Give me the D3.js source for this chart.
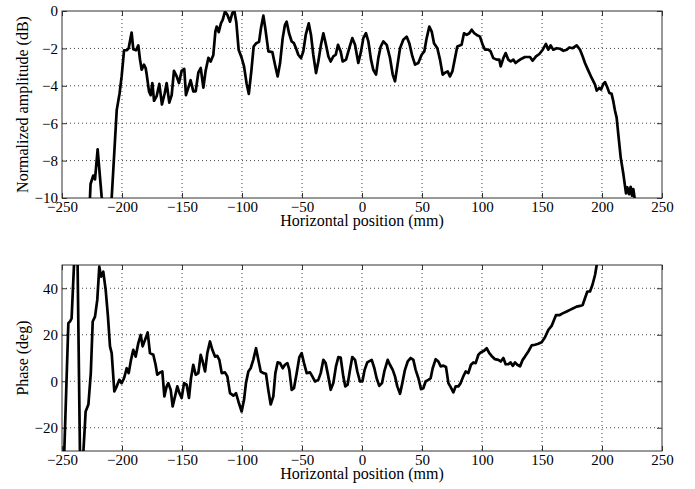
<html>
<head><meta charset="utf-8"></head>
<script src="https://cdnjs.cloudflare.com/ajax/libs/d3/7.8.5/d3.min.js"></script>
<body style="margin:0;background:white">
<div id="graph"></div>
</body>
<script>
// amplitude profile (top)
var posAmp = [-227,-226.7,-226.2,-224,-222.5,-220.3,-217,-215,-211,-208.6,-204.4,-202,-200.3,-198.3,-196,-194.5,-192,-190.6,-188.3,-186.4,-185,-183.6,-181.7,-180.3,-179.4,-177.5,-176.1,-174.7,-173.3,-171.1,-168.9,-166.7,-164.4,-162.8,-160.6,-158.6,-156.7,-154.4,-152.5,-150.3,-148.1,-146.7,-144.7,-142.8,-140.6,-138.6,-136.4,-134.4,-132.2,-130.3,-128,-126.1,-123.9,-122.2,-121.1,-119.4,-117.5,-116.1,-114.2,-112.2,-110,-108.1,-106.4,-104.7,-102.8,-100.3,
  -98.3,-96.1,-94.3,-92.2,-90.3,-88.1,-85.8,-84.2,-82.2,-80.6,-78,-74.7,-72.5,-70.3,-68.3,-66.1,-64.2,-62.8,-60.8,-58.6,-56.7,-55,-53.1,-50.8,-48.9,-46.9,-44.4,-42.5,-40.6,-38.3,-36.4,-34.2,-32.2,-30,-28,-26.1,-23.9,-21.9,-20,-17.8,-16.1,-13.3,-10.6,-8.1,-5.8,-3.1,-0.8,1.1,3.3,5.3,7.5,9.4,11.7,13.6,15.6,17.8,20.6,23.3,
  25.6,27.5,29.4,31.7,34.4,37.2,39.4,42,44.2,46.9,49.7,51.9,53.9,56.1,58.1,60,62.8,65,67.2,69.2,71.4,73.3,75.3,77.5,79.4,83,85,87.2,89.4,91.4,93.6,95.6,98.3,100.6,102.5,105.3,107.2,109.4,112.2,114.4,115.6,117.8,119.7,121.9,123.9,126.1,128,130.3,
  133,135.8,140,142.2,145,147.8,150.6,153.3,155.3,157.2,159.4,162.2,165,167.8,170.6,172.8,175.6,178.9,181.7,183.9,185.8,188.6,191.4,194.2,195.6,197.8,199.2,201.1,202.5,204.4,206.1,208,209.4,210.8,212.2,213.6,215.6,217.8,220,221.1,222.5,223.9,225,226.1,227,228];
var ampDb = [-10.5,-10,-9.25,-8.8,-9.0,-7.4,-9.9,-10.6,-10.6,-10,-5.3,-4.4,-3.5,-2.1,-2.1,-2.0,-1.15,-2.04,-2.1,-1.84,-2.6,-3.14,-2.87,-3.05,-3.4,-4.3,-4.5,-3.85,-4.8,-4.55,-3.9,-5.0,-4.4,-3.85,-4.9,-4.5,-3.2,-3.5,-3.85,-3.2,-3.1,-4.5,-4.1,-3.7,-4.3,-4.3,-3.3,-3.05,-4.1,-3.2,-2.5,-2.7,-2.35,-1.1,-0.83,-1.13,-0.65,-0.48,-0.03,-0.2,-0.57,-0.12,0,-0.62,-2.07,-2.5,
  -2.96,-3.9,-4.43,-3.2,-1.9,-1.72,-1.65,-0.92,-0.25,-0.92,-2.16,-2.2,-2.87,-3.5,-2.8,-1.45,-0.74,-0.57,-1.19,-1.63,-1.72,-1.99,-2.34,-2.52,-2.16,-1.28,-0.66,-1.28,-2.34,-3.32,-2.7,-1.81,-1.19,-1.81,-2.43,-2.7,-2.43,-2.34,-1.81,-2.16,-2.7,-2.6,-1.99,-1.45,-1.81,-2.78,-2.16,-1.45,-1.19,-1.63,-2.6,-3.14,-3.4,-2.52,-1.9,-1.63,-1.81,-2.5,
  -3.4,-3.76,-2.96,-1.99,-1.54,-1.37,-1.72,-2.43,-2.87,-2.78,-2.34,-2.16,-1.45,-0.83,-1.1,-1.72,-1.99,-2.6,-3.4,-3.3,-3.23,-3.5,-3.23,-2.52,-1.9,-1.81,-1.19,-1.28,-1.19,-1.0,-1.19,-1.28,-1.37,-1.81,-2.07,-2.07,-2.16,-2.52,-2.6,-2.6,-2.96,-2.52,-2.25,-2.6,-2.7,-2.6,-2.78,-2.66,
  -2.55,-2.46,-2.46,-2.66,-2.43,-2.3,-2.07,-1.76,-2.07,-1.84,-2.07,-1.99,-2.02,-2.13,-2.07,-1.95,-1.99,-1.84,-2.07,-2.43,-2.78,-3.19,-3.58,-3.94,-4.26,-4.11,-4.2,-3.9,-3.8,-4.08,-4.38,-4.43,-4.82,-5.32,-5.7,-6.6,-7.84,-8.72,-9.75,-9.43,-9.79,-9.4,-9.88,-9.52,-9.93,-10.5];

// phase profile (bottom)
var posPhase = [-249,-244.7,-243.3,-242,-240,-238.5,-237,-235,-233,-230.3,-228,-226,-224.4,-222.5,-220.6,-218.9,-217.5,-215.6,-213.6,-211.7,-210,-208.6,-206.4,-204.4,-202.2,-200.3,-198.3,-196.1,-194.4,-192.5,-190.6,-188.6,-186.4,-184.4,-182.8,-180.8,-178.6,-176.7,-173.9,-172,-170.6,-168.3,-166.4,-164.7,-162.8,-161.4,-159.4,-157.8,-155.8,-153.9,-152.2,-150.3,-148.3,-146.1,-144.2,-142.5,-140.6,-138.6,-136.4,-134.4,-132.8,-130.8,-128.9,-126.7,-124.7,-122.5,-120.6,-118.9,-116.9,-114.2,-112.2,-110,-107.2,-105,-103,-100.3,
  -98.3,-96.7,-94.7,-92.8,-90.6,-88.3,-86.4,-84.4,-82.2,-80,-78.1,-76.1,-73.9,-72.2,-70.3,-68.3,-66.1,-64.2,-62.2,-60.6,-58.6,-56.7,-54.4,-52.2,-50.3,-48.3,-46.1,-43.3,-41.4,-39.2,-36.4,-34.4,-32.2,-30.3,-28.1,-26.1,-23.9,-21.7,-19.7,-17.8,-15.6,-13.9,-12,-10,-8.1,-5.8,-3.9,-1.7,0.3,2.2,4.4,8.1,10.3,12.2,14.4,16.7,18.6,21.4,23.3,25.6,27.5,29.4,31.7,33.6,35.8,38.1,40.6,42.8,44.7,47,49.2,51.1,53,55.3,57.2,58.9,61.4,63.6,65.6,67.8,70,72,73.9,76.1,78.1,80.3,82.2,84.4,86.4,88.6,90.8,92.8,94.7,97,98.9,
  101.7,103.9,106.1,108,110.8,113.6,115.6,117.8,119.7,122,123.9,125.6,127.5,129.4,131.7,133.9,135.8,138.6,141.4,144.2,146.9,149.7,152.5,155.3,158,161.7,164.4,167.2,170.6,173.3,176.1,178.9,181.7,183.9,185.8,187.8,190,192,194.2,195.6,197.5];
var phaseDeg = [-45,25,25.7,27,50,60,50,-32,-38,-13,-10,3.5,25.7,27.8,35,49.3,45,47.1,39.3,27.8,15,12.1,-4.4,-2.2,0.6,-0.8,1.3,5.6,3.5,9.2,13.5,10.6,16.4,19.9,15,17.8,21,12.1,11.4,7.1,2.8,3.8,4.2,-6.5,-2.2,-0.8,-3.7,-10.8,-6.5,-2.2,-5,-7.2,-0.8,-1.5,-7.2,1.3,7.1,2.8,3.5,11.4,8.5,4.2,12.1,17.1,13.5,10.6,10.9,9.2,3.5,3.8,2.1,-5.1,-6.2,-5.1,-8.7,-13,
  -8,-0.8,4.2,5.6,9.2,14.2,9.2,4.2,3.5,3.2,-3.7,-10,-6.5,3.5,8.1,7.8,5.6,7.1,7.8,5,-3.7,-3,3.5,10.4,12.1,7.8,3.5,3.8,2.1,-0.1,0.6,3.5,9.2,7.8,2.1,-3.7,-0.8,6.4,10.4,10.2,2.1,-2.2,-1.5,4.9,10.4,9.2,4.2,-0.1,-0.1,4.9,8.1,9.2,5.6,1.3,-2.0,-0.8,4.2,9.2,7.1,4.9,2.1,-2.2,-5.4,-0.8,4.9,8.5,10,9.2,4.9,1.3,-3.4,-3.0,-0.1,0.6,1.3,5.6,9.5,8.5,6.4,6.7,6.1,-0.8,-2.5,-4.8,-2.2,-2.2,-0.8,2.1,4.2,3.5,7.1,8.1,7.8,11.4,12.4,
  13.1,14.2,12.1,10.9,9.5,9.2,8.5,10,7.3,7.4,8.1,6.6,8.1,7.1,6.4,9.2,10.6,12.8,15.4,15.7,16.1,16.8,18.9,22.1,23.8,28.5,28.4,29.2,30,30.7,31.4,32.1,32.4,32.8,35.7,38.6,38.6,41.4,45.7,50,54];

var xTicks = [-250,-200,-150,-100,-50,0,50,100,150,200,250];
var ampTicks = [-10,-8,-6,-4,-2,0];
var phaseTicks = [-20,0,20,40];

var W = 695, H = 489;
var svg = d3.select("#graph").append("svg").attr("width", W).attr("height", H)
  .style("font-family", "'Liberation Serif', 'Times New Roman', serif");

function panel(id, top, bottom, domain, yTicks, xs, ys, ylabel) {
  var X = d3.scaleLinear().domain([-250, 250]).range([62, 662]);
  var Y = d3.scaleLinear().domain(domain).range([bottom, top]);
  var g = svg.append("g");

  g.append("clipPath").attr("id", id).append("rect")
    .attr("x", 62).attr("y", top).attr("width", 600).attr("height", bottom - top);

  // dotted grid
  g.selectAll(".gx").data(xTicks.slice(1, -1)).enter().append("line")
    .attr("x1", d => X(d)).attr("x2", d => X(d)).attr("y1", top).attr("y2", bottom)
    .style("stroke", "#444").style("stroke-width", 1).style("stroke-dasharray", "1,3");
  g.selectAll(".gy").data(yTicks.filter(d => d > domain[0] && d < domain[1])).enter().append("line")
    .attr("x1", 62).attr("x2", 662).attr("y1", d => Y(d)).attr("y2", d => Y(d))
    .style("stroke", "#444").style("stroke-width", 1).style("stroke-dasharray", "1,3");

  // axes, ticks pointing inward on all four sides
  var ax = g.append("g").attr("transform", "translate(0," + bottom + ")")
    .call(d3.axisBottom(X).tickValues(xTicks).tickSizeInner(-5).tickSizeOuter(0).tickPadding(3));
  var axT = g.append("g").attr("transform", "translate(0," + top + ")")
    .call(d3.axisTop(X).tickValues(xTicks).tickSizeInner(-5).tickSizeOuter(0).tickFormat(""));
  var ay = g.append("g").attr("transform", "translate(62,0)")
    .call(d3.axisLeft(Y).tickValues(yTicks).tickSizeInner(-5).tickSizeOuter(0).tickPadding(4));
  var ayR = g.append("g").attr("transform", "translate(662,0)")
    .call(d3.axisRight(Y).tickValues(yTicks).tickSizeInner(-5).tickSizeOuter(0).tickFormat(""));
  [ax, axT, ay, ayR].forEach(a => {
    a.select(".domain").remove();
    a.selectAll("line").style("stroke", "#333");
    a.selectAll("text").style("font-size", "15px").style("fill", "#000").style("font-family", "'Liberation Serif', serif");
  });

  g.append("rect").attr("x", 62).attr("y", top).attr("width", 600).attr("height", bottom - top)
    .style("fill", "none").style("stroke", "#333").style("stroke-width", 1);

  var line = d3.line().x(d => X(d[0])).y(d => Y(d[1]));
  g.append("path").datum(xs.map((x, i) => [x, ys[i]]))
    .attr("clip-path", "url(#" + id + ")")
    .attr("d", line).style("fill", "none").style("stroke", "#000")
    .style("stroke-width", 2.7).style("stroke-linejoin", "round");

  g.append("text").attr("x", 362).attr("y", bottom + 28).attr("text-anchor", "middle")
    .style("font-size", "16px").text("Horizontal position (mm)");
  g.append("text").attr("transform", "translate(28," + (top + bottom) / 2 + ") rotate(-90)")
    .attr("text-anchor", "middle").style("font-size", "16px").text(ylabel);
}

panel("clipA", 11, 198, [-10, 0], ampTicks, posAmp, ampDb, "Normalized amplitude (dB)");
panel("clipP", 265, 451, [-30, 50], phaseTicks, posPhase, phaseDeg, "Phase (deg)");
</script>
</html>
